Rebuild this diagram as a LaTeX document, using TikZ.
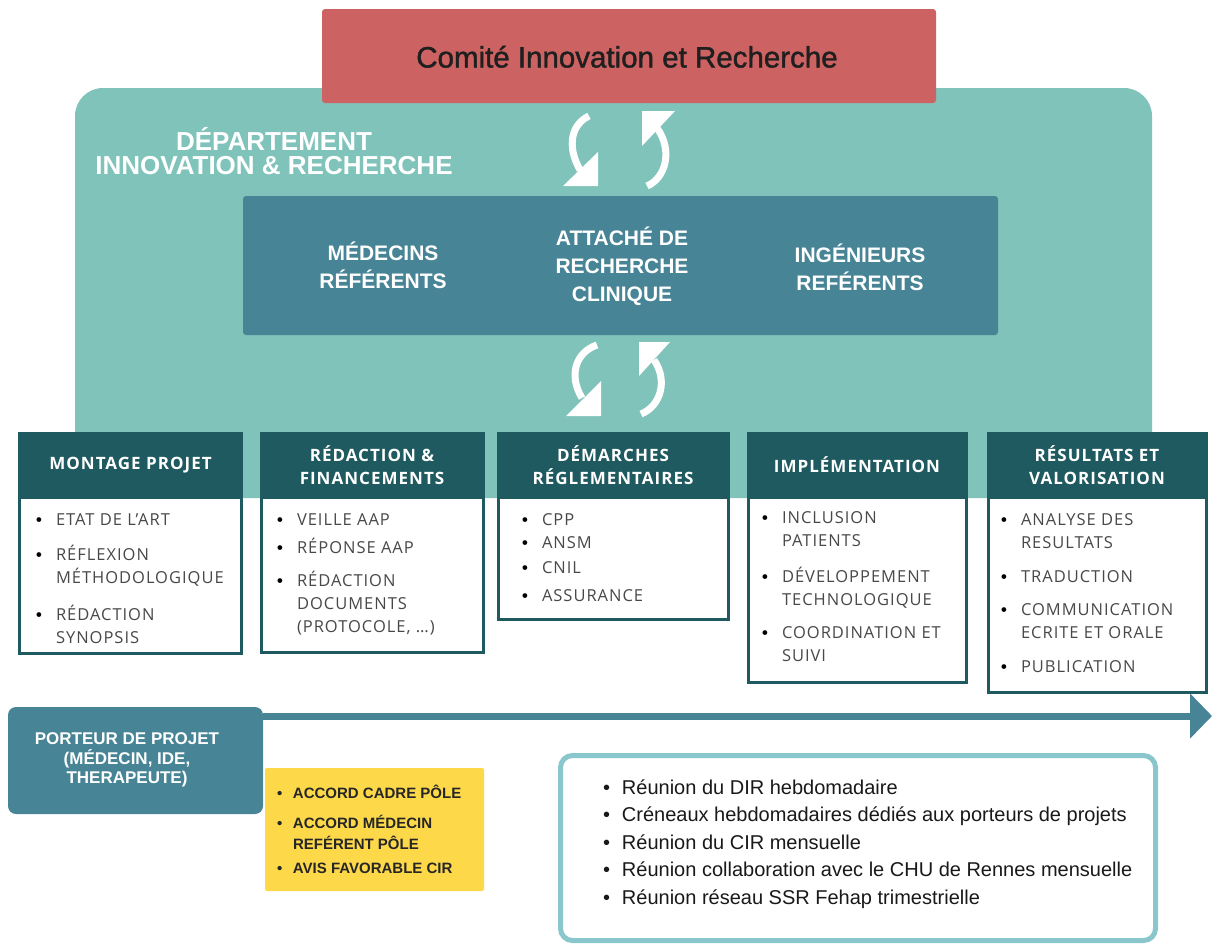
\documentclass[tikz,border=0pt]{standalone}
\usepackage{fontspec}
\setmainfont{Liberation Sans}
\newfontfamily\osfont[LetterSpace=6]{Open Sans}
\newfontfamily\comfont[FakeBold=1.4]{Liberation Sans}
\newfontfamily\bulfont{Liberation Sans}
\usetikzlibrary{arrows.meta}
\definecolor{cirred}{HTML}{CD6262}
\definecolor{dirteal}{HTML}{80C3BA}
\definecolor{midblue}{HTML}{478496}
\definecolor{hdteal}{HTML}{1E5A60}
\definecolor{yel}{HTML}{FDD94A}
\definecolor{ltbord}{HTML}{89C7CD}
\definecolor{bodygray}{HTML}{484848}
\newcommand{\bulA}{\makebox[20pt][l]{\color{black}\bulfont\bfseries\textbullet}}
\newcommand{\bulB}{\makebox[16pt][l]{\textbullet}}
\newcommand{\bulC}{\makebox[19pt][l]{\textbullet}}
\begin{document}
\begin{tikzpicture}[x=1pt,y=-1pt,
  every node/.style={inner sep=0pt, outer sep=0pt},
  hdr/.style={fill=hdteal, text=white, font=\osfont\bfseries\fontsize{17}{23}\selectfont, align=center, anchor=north west},
  bodyb/.style={draw=hdteal, line width=3pt, fill=white, anchor=north west},
  lst/.style={anchor=base west, font=\osfont\fontsize{16.5}{23}\selectfont, text=bodygray},
  wtxt/.style={anchor=base, text=white, font=\bfseries\fontsize{21}{28}\selectfont},
  cyc/.style={draw=white, line width=7pt},
  cychead/.style={fill=white}
]
\useasboundingbox (0,0) rectangle (1212,943);

% department background
\node[fill=dirteal, rounded corners=28pt, minimum width=1077pt, minimum height=410pt, anchor=north west] (dir) at (75,88) {};
\node[anchor=base, text=white, font=\bfseries\fontsize{26}{21}\selectfont] (dirt) at (274,150)
  {\begin{tabular}[t]{@{}c@{}}DÉPARTEMENT\\INNOVATION \& RECHERCHE\end{tabular}};

% comite
\node[fill=cirred, rounded corners=3pt, minimum width=614pt, minimum height=94pt, anchor=north west] (cir) at (322,9) {};
\node[anchor=base, font=\comfont\fontsize{29.5}{30}\selectfont, text=black!88] (cirt) at (627,67.5) {Comité Innovation et Recherche};

% cycle arrows top
\draw[cyc] (589,116) .. controls (572,124) and (566,145) .. (580,170);
\fill[cychead] (563,186) -- (598,186) -- (598,152) -- cycle;
\draw[cyc] (647,186) .. controls (666,178) and (673,150) .. (657,128);
\fill[cychead] (642,111) -- (675,111) -- (642,146) -- cycle;

% team box
\node[fill=midblue, rounded corners=3pt, minimum width=755pt, minimum height=139pt, anchor=north west] (team) at (243,196) {};
\node[wtxt] (med) at (383,260) {\begin{tabular}[t]{@{}c@{}}MÉDECINS\\RÉFÉRENTS\end{tabular}};
\node[wtxt] (arc) at (622,245) {\begin{tabular}[t]{@{}c@{}}ATTACHÉ DE\\RECHERCHE\\CLINIQUE\end{tabular}};
\node[wtxt] (ing) at (860,262) {\begin{tabular}[t]{@{}c@{}}INGÉNIEURS\\REFÉRENTS\end{tabular}};

% cycle arrows bottom
\draw[cyc] (597,345) .. controls (576,352) and (568,375) .. (582,398);
\fill[cychead] (566,416) -- (601,416) -- (601,381) -- cycle;
\draw[cyc] (641,414) .. controls (661,406) and (668,380) .. (654,360);
\fill[cychead] (639,342) -- (670,342) -- (639,376) -- cycle;

% column bodies
\node[bodyb, minimum width=222pt, minimum height=156pt] (b1) at (19.5,497) {};
\node[bodyb, minimum width=222pt, minimum height=155pt] (b2) at (261,497) {};
\node[bodyb, minimum width=230pt, minimum height=122pt] (b3) at (498,497) {};
\node[bodyb, minimum width=218pt, minimum height=185pt] (b4) at (748,497) {};
\node[bodyb, minimum width=218pt, minimum height=195pt] (b5) at (988,497) {};

% column headers
\node[hdr, minimum width=225pt, minimum height=66pt] (h1) at (18,432) {MONTAGE PROJET};
\node[hdr, minimum width=225pt, minimum height=66pt] (h2) at (259.5,432) {RÉDACTION \&\\FINANCEMENTS};
\node[hdr, minimum width=233pt, minimum height=66pt] (h3) at (496.5,432) {DÉMARCHES\\RÉGLEMENTAIRES};
\node[hdr, minimum width=221pt, minimum height=66pt] (h4) at (746.5,432) {IMPLÉMENTATION};
\node[hdr, minimum width=221pt, minimum height=66pt] (h5) at (986.5,432) {RÉSULTATS ET\\VALORISATION};

% column lists
\node[lst] (l1) at (36,525) {\begin{tabular}[t]{@{}l@{}l@{}}
\bulA & ETAT DE L’ART\\[12pt]
\bulA & RÉFLEXION\\
      & MÉTHODOLOGIQUE\\[14pt]
\bulA & RÉDACTION\\
      & SYNOPSIS
\end{tabular}};
\node[lst] (l2) at (277,525) {\begin{tabular}[t]{@{}l@{}l@{}}
\bulA & VEILLE AAP\\[5pt]
\bulA & RÉPONSE AAP\\[10pt]
\bulA & RÉDACTION\\
      & DOCUMENTS\\
      & (PROTOCOLE, …)
\end{tabular}};
\node[lst] (l3) at (522,525) {\begin{tabular}[t]{@{}l@{}l@{}}
\bulA & CPP\\[0pt]
\bulA & ANSM\\[2pt]
\bulA & CNIL\\[5pt]
\bulA & ASSURANCE
\end{tabular}};
\node[lst] (l4) at (762,523) {\begin{tabular}[t]{@{}l@{}l@{}}
\bulA & INCLUSION\\
      & PATIENTS\\[13pt]
\bulA & DÉVELOPPEMENT\\
      & TECHNOLOGIQUE\\[10pt]
\bulA & COORDINATION ET\\
      & SUIVI
\end{tabular}};
\node[lst] (l5) at (1001,525) {\begin{tabular}[t]{@{}l@{}l@{}}
\bulA & ANALYSE DES\\
      & RESULTATS\\[11pt]
\bulA & TRADUCTION\\[10pt]
\bulA & COMMUNICATION\\
      & ECRITE ET ORALE\\[11pt]
\bulA & PUBLICATION
\end{tabular}};

% porteur + timeline
\node[fill=midblue, rounded corners=8pt, minimum width=255pt, minimum height=107pt, anchor=north west] (porteur) at (8,707) {};
\coordinate (tlend) at (1212,716);
\draw[midblue, line width=7pt, -{Triangle[length=22pt,width=44pt]}] (porteur.east |- tlend) -- (tlend);
\node[anchor=base, text=white, font=\bfseries\fontsize{17}{19}\selectfont] (porteurt) at (127,744)
  {\begin{tabular}[t]{@{}c@{}}PORTEUR DE PROJET\\(MÉDECIN, IDE,\\THERAPEUTE)\end{tabular}};

% yellow box
\node[fill=yel, rounded corners=2pt, minimum width=219pt, minimum height=123pt, anchor=north west] (yb) at (265,768) {};
\node[anchor=base west, font=\bfseries\fontsize{15}{21}\selectfont, text=black!85] (yt) at (277,798)
  {\begin{tabular}[t]{@{}l@{}l@{}}
\bulB & ACCORD CADRE PÔLE\\[9pt]
\bulB & ACCORD MÉDECIN\\
      & REFÉRENT PÔLE\\[3pt]
\bulB & AVIS FAVORABLE CIR
\end{tabular}};

% meetings box
\node[draw=ltbord, line width=5pt, fill=white, rounded corners=12pt, minimum width=595pt, minimum height=185pt, anchor=north west] (meet) at (560.5,755.5) {};
\node[anchor=base west, font=\fontsize{20}{27.5}\selectfont, text=black!90] (meett) at (603,794)
  {\begin{tabular}[t]{@{}l@{}l@{}}
\bulC & Réunion du DIR hebdomadaire\\
\bulC & Créneaux hebdomadaires dédiés aux porteurs de projets\\
\bulC & Réunion du CIR mensuelle\\
\bulC & Réunion collaboration avec le CHU de Rennes mensuelle\\
\bulC & Réunion réseau SSR Fehap trimestrielle
\end{tabular}};
\end{tikzpicture}
\end{document}
